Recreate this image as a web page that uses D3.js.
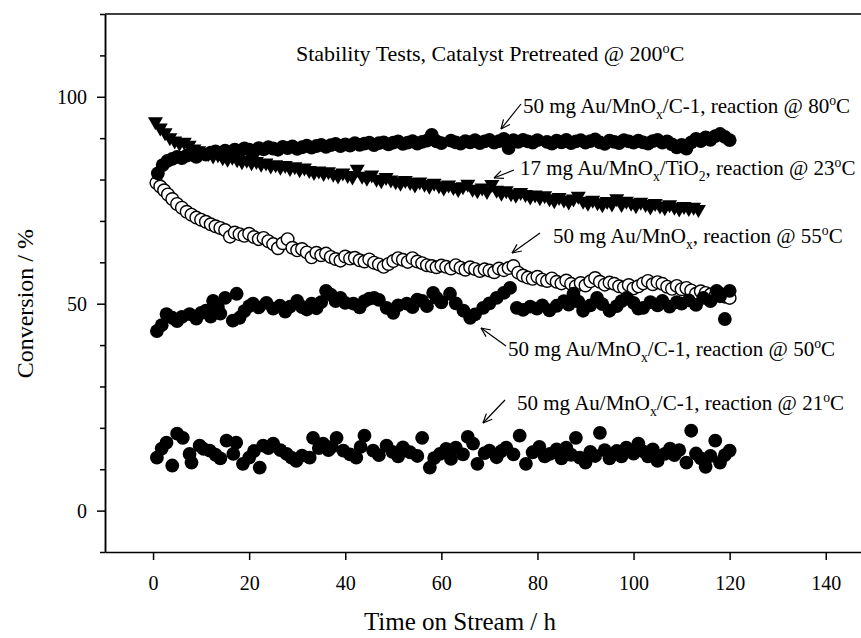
<!DOCTYPE html>
<html>
<head>
<meta charset="utf-8">
<script src="https://cdn.jsdelivr.net/npm/d3@7"></script>
<style>
body { margin: 0; background: #fff; }
svg { display: block; font-family: "Liberation Serif", "Times New Roman", serif; }
</style>
</head>
<body>
<script>
(function(){

//conversion (%) vs time on stream (h), one array per run
var run80 = [[1,81.5],[2,83.5],[3,84.5],[4,85],[5,85.5],[6,85.2],[7,85.8],[8,86],[9,85.5],[10,86.3],[11,86],[12,86.5],[13,86.8],[14,86.2],[15,87],[16,86.7],[17,87.2],[18,86.9],[19,87.5],[20,87.2],[21,86.8],[22,87.6],[23,87.3],[24,87.8],[25,87.5],[26,87.2],[27,87.9],[28,87.6],[29,88],[30,87.4],[31,87.8],[32,88.2],[33,87.7],[34,88.1],[35,88.4],[36,87.9],[37,88.3],[38,88.6],[39,88.1],[40,88.5],[41,88.2],[42,88.8],[43,88.4],[44,88.7],[45,88.9],[46,88.3],[47,88.8],[48,89],[49,88.5],[50,88.9],[51,89.2],[52,88.6],[53,88.9],[54,89.3],[55,88.7],[56,89.1],[57,89.4],[58,90.8],[59,89.2],[60,88.8],[62,89.4],[63,89],[64,88.7],[65,89.3],[66,89],[67,89.5],[68,88.8],[69,89.2],[70,89.6],[71,88.9],[72,89.3],[73,89.8],[74,87.6],[75,89.5],[76,89.1],[77,89.6],[78,89.2],[79,88.9],[80,89.5],[82,89.1],[83,88.7],[84,89.4],[85,89],[86,89.6],[87,88.8],[88,89.2],[89,89.5],[90,88.9],[91,89.3],[92,89.7],[93,89],[94,88.6],[95,89.4],[96,89.1],[97,88.8],[98,89.5],[99,89.2],[100,88.9],[101,89.4],[102,89],[103,88.7],[104,89.3],[105,89.6],[106,88.9],[107,89.2],[108,88.5],[109,87.8],[110,88.4],[111,87.5],[112,89],[113,89.8],[114,89.3],[115,90.2],[116,89.6],[117,90.5],[118,91],[119,90.3],[120,89.5]];

var run23 = [[0.5,93.5],[1.5,92],[2.5,90.8],[3.5,89.6],[4.5,88.8],[5.5,88.3],[6.5,88.5],[7.5,87.8],[8.5,86.9],[9.5,86.5],[10.5,86],[11.5,85.8],[12.5,85.2],[13.5,85.5],[14.5,84.8],[15.5,84.4],[16.5,84.9],[17.5,84.3],[18.5,83.8],[19.5,84.2],[20.5,83.6],[21.5,83.9],[22.5,83.2],[23.5,83.5],[24.5,82.8],[25.5,83.1],[26.5,82.5],[27.5,82.9],[28.5,82.2],[29.5,82.6],[30.5,81.9],[31.5,82.3],[32.5,81.7],[33.5,81.2],[34.5,81.6],[35.5,81],[36.5,81.4],[37.5,80.8],[38.5,80.4],[39.5,81.1],[40.5,80.5],[41.5,80.1],[42.5,82],[43.5,80.3],[44.5,79.8],[45.5,80.6],[46.5,79.6],[47.5,79.2],[48.5,80],[49.5,79.4],[50.5,79],[51.5,78.6],[52.5,79.3],[53.5,78.8],[54.5,78.2],[55.5,78.9],[56.5,78.4],[57.5,77.9],[58.5,78.6],[59.5,78],[60.5,77.5],[61.5,78.2],[62.5,77.6],[63.5,77.1],[64.5,77.8],[65.5,78.4],[66.5,77.2],[67.5,76.8],[68.5,77.5],[69.5,76.6],[70.5,78.3],[71.5,76.9],[72.5,76.2],[73.5,76.8],[74.5,76.1],[75.5,75.7],[76.5,76.4],[77.5,75.9],[78.5,75.3],[79.5,75.8],[80.5,75.1],[81.5,75.6],[82.5,74.9],[83.5,74.4],[84.5,75.2],[85.5,74.6],[86.5,74.1],[87.5,74.8],[88.5,75.5],[89.5,74.3],[90.5,73.8],[91.5,74.5],[92.5,73.9],[93.5,73.4],[94.5,74.2],[95.5,73.6],[96.5,74.9],[97.5,73.5],[98.5,74.3],[99.5,73.8],[100.5,73.2],[101.5,74],[102.5,73.5],[103.5,72.9],[104.5,73.7],[105.5,73.1],[106.5,72.7],[107.5,73.4],[108.5,72.8],[109.5,72.4],[110.5,73],[111.5,72.5],[112.5,72.8],[113.5,72.3]];

var run55 = [[0.7,79.2],[1.5,78.3],[2.3,77.4],[3.1,76.4],[4,75.3],[5,74.1],[6,73.2],[7,72.2],[8,71.5],[9,70.8],[10,70.3],[11,69.8],[12,69.2],[13,68.7],[14,68.3],[15,67.8],[16,66.2],[17,67.2],[18,66.8],[19,66.4],[20,66.9],[21,66.1],[22,65.6],[23,65.9],[24,65.1],[25,64.4],[26,63.4],[27,64.6],[28,65.6],[29,63.5],[30,62.9],[31,63.2],[32,62.4],[33,61.2],[34,62.3],[35,61.7],[36,62.1],[37,61.3],[38,60.8],[39,60.4],[40,61.4],[41,60.9],[42,61.1],[43,60.5],[44,60.2],[45,60.7],[46,59.9],[47,59.5],[48,58.9],[49,59.6],[50,60.3],[51,61],[52,60.6],[53,60.1],[54,61],[55,60.2],[56,59.8],[57,59.3],[58,59.1],[59,58.8],[60,59.2],[61,58.9],[62,58.5],[63,59.3],[64,58.7],[65,58.2],[66,58.8],[67,58.4],[68,57.9],[69,58.3],[70,58],[71,57.6],[72,58.5],[73,58.1],[74,58.6],[75,59.1],[76,57.5],[77,56.8],[78,56.3],[79,56],[80,56.5],[81,55.8],[82,55.5],[83,56.1],[84,55.3],[85,54.9],[86,55.6],[87,54.8],[88,54.2],[89,55],[90,54.4],[91,55.4],[92,56.2],[93,55.3],[94,54.6],[95,55.1],[96,54.8],[97,54.2],[98,53.9],[99,54.5],[100,53.7],[101,54.2],[102,54.9],[103,55.5],[104,54.7],[105,55.2],[106,54.8],[107,54.1],[108,53.6],[109,54.3],[110,53.5],[111,53.8],[112,53.2],[113,52.4],[114,53],[115,52.6],[116,52.2],[117,51.9],[118,52.4],[119,51.7],[120,51.4]];

var run50 = [[0.8,43.4],[1.8,44.8],[2.8,47.5],[4,46.6],[5,45.8],[6,46.8],[7.6,47.5],[9,46.4],[10,47.8],[11,48.3],[12,46.9],[12.5,50.7],[13.5,49.2],[14,47.6],[15,51.4],[16.6,45.9],[17.4,52.4],[18,46.6],[19,48.2],[20,49.4],[20.8,50],[22,49.1],[23.6,50.2],[25,48.8],[26.4,49.5],[27.5,48.1],[28.5,49.3],[30,50.7],[31,49.2],[32,48.6],[33,50],[34,48.9],[35,50.4],[36,53.1],[37,52.2],[38,50.6],[39,51.4],[40,50.2],[41.7,50],[43,49.1],[44,50.6],[45,51.2],[46,51.4],[47,50.9],[48.6,49],[50,47.8],[51,49.6],[52.8,50],[54,49.2],[55,51],[56,50.7],[57,49.4],[58.3,52.6],[59,51.4],[60,50.3],[61.8,52.4],[63,50.1],[64.6,48.3],[66,46.6],[67,47.4],[68.7,49],[70,50.1],[71.5,51.4],[73,52.6],[74.3,53.8],[75.7,49],[77,48.5],[78.5,49.3],[79.9,48.8],[81,49.6],[82.5,48.4],[84,49.5],[85.5,50.6],[86.5,49.8],[87.5,52.4],[88.5,50.5],[89.5,48.3],[91,49.6],[92.4,51.4],[93.5,49.9],[95,48.3],[96.5,49.4],[97.5,50.6],[98.6,51.4],[100,50.2],[101,48.8],[102,49],[103.5,50.4],[105,49.6],[106,50.7],[107.5,49.3],[109,50.4],[110,50],[111.5,50.8],[113,49.7],[114.5,51.4],[116,50.6],[117.3,53.1],[118,51.8],[119,46.3],[120,53.1]];

var run21 = [[0.8,12.8],[1.8,15],[2.8,16.4],[4,10.9],[5,18.6],[6.2,17.6],[7.6,13.7],[8,11.6],[9.7,15.7],[10.5,14.9],[11.8,14.5],[13,13.5],[14,12.6],[15.3,16.9],[16.7,13.7],[17.3,16.4],[18.7,11.3],[20,12.8],[21,14.4],[22.2,10.4],[22.9,15.7],[24,15.1],[25,16.2],[26.5,14.6],[27.8,13.7],[28.8,12.8],[29.8,12],[31,13.3],[32.6,12.8],[33.3,17.6],[34.5,15.1],[35.4,16.2],[36.5,14.6],[37.2,15.4],[38.2,17.6],[39.6,14.5],[41,13.6],[42.3,12.8],[43.2,15.4],[44,18.1],[45.8,14.5],[47,13.4],[48.6,15.7],[49.8,14.2],[51,13.1],[52,15.3],[53.5,14.1],[55,13.2],[56,17.6],[57.6,10.4],[58.5,12.7],[59.7,13.7],[61,14.9],[62,12.5],[63,15.2],[64.5,13.6],[65.5,17.8],[66.6,16.2],[67.5,11.3],[69,13.9],[70,14.5],[71.5,12.9],[72.5,14.4],[73.5,15.2],[75,13.6],[76.3,18.1],[77.6,11.3],[79,14.1],[80.4,15.4],[81.5,13.1],[82.6,13.7],[84,14.8],[85,12.6],[86,15.2],[87,13.5],[88,17.6],[88.8,12.8],[90,11.6],[91,14.2],[92,13.2],[93,18.8],[94,14.6],[95,12.6],[96.5,14.4],[97.5,13.1],[98.5,15.2],[100,13.8],[101,16.2],[102,14.3],[103,13.1],[104,14.8],[105,12],[106.5,13.7],[107.6,15],[108.5,13.4],[109.5,14.6],[111,11.6],[112,19.3],[113,13.8],[114,12.6],[115,10.6],[116,13.2],[117,16.9],[118,11.6],[119,13.4],[120,14.5]];

//tick values
var xTicks = [0, 20, 40, 60, 80, 100, 120, 140];
var yLabelTicks = [0, 50, 100];
var yMinorTicks = [-10, 10, 20, 30, 40, 60, 70, 80, 90, 110, 120];

//text pieces: n = normal, sub = subscript, sup = superscript
var titleText = [["Stability Tests, Catalyst Pretreated @ 200","n"],["o","sup"],["C","n"]];
var notes = [
    {txt: [["50 mg Au/MnO","n"],["x","sub"],["/C-1, reaction @ 80","n"],["o","sup"],["C","n"]], at: [523,113], arrow: [521,104,501,129]},
    {txt: [["17 mg Au/MnO","n"],["x","sub"],["/TiO","n"],["2","sub"],[", reaction @ 23","n"],["o","sup"],["C","n"]], at: [520,175], arrow: [514,170,494,178]},
    {txt: [["50 mg Au/MnO","n"],["x","sub"],[", reaction @ 55","n"],["o","sup"],["C","n"]], at: [553,243], arrow: [540,233,512,253]},
    {txt: [["50 mg Au/MnO","n"],["x","sub"],["/C-1, reaction @ 50","n"],["o","sup"],["C","n"]], at: [508,356], arrow: [506,346,481,328]},
    {txt: [["50 mg Au/MnO","n"],["x","sub"],["/C-1, reaction @ 21","n"],["o","sup"],["C","n"]], at: [517,410], arrow: [505,400,483,423]}
];

var width = 861,
    height = 638;

var svg = d3.select("body")
    .append("svg")
    .attr("width", width)
    .attr("height", height);

var x = d3.scaleLinear().domain([-10, 150]).range([105, 873.8]);
var y = d3.scaleLinear().domain([-10, 120]).range([552, 14]);

//axes
svg.append("g")
    .attr("transform", "translate(" + x(-10) + ",0)")
    .call(d3.axisLeft(y).tickValues(yMinorTicks).tickSize(5).tickFormat("").tickSizeOuter(0));
svg.append("g")
    .attr("transform", "translate(" + x(-10) + ",0)")
    .call(d3.axisLeft(y).tickValues(yLabelTicks).tickSize(8).tickPadding(10).tickSizeOuter(0));
svg.append("g")
    .attr("transform", "translate(0," + y(-10) + ")")
    .call(d3.axisBottom(x).tickValues(xTicks).tickSize(8).tickPadding(16).tickSizeOuter(0));

svg.append("line")
    .attr("x1", x(-10)).attr("x2", x(150))
    .attr("y1", y(120)).attr("y2", y(120))
    .attr("stroke", "#000").attr("stroke-width", 1.5);

svg.selectAll(".domain, .tick line")
    .attr("stroke", "#000")
    .attr("stroke-width", 1.5);
svg.selectAll(".tick text")
    .attr("fill", "#000")
    .style("font-size", "20px")
    .style("font-family", "Liberation Serif, Times New Roman, serif");

//axis titles
svg.append("text")
    .attr("transform", "translate(33," + y(50) + ") rotate(-90)")
    .attr("text-anchor", "middle")
    .style("font-size", "24px")
    .text("Conversion / %");
svg.append("text")
    .attr("x", 460).attr("y", 630)
    .attr("text-anchor", "middle")
    .style("font-size", "25px")
    .text("Time on Stream / h");

//markers
function dots(data, filled){
    svg.append("g").selectAll("circle")
        .data(data)
        .enter()
        .append("circle")
        .attr("cx", function(d){ return x(d[0]); })
        .attr("cy", function(d){ return y(d[1]); })
        .attr("r", filled ? 6.9 : 6.3)
        .attr("fill", filled ? "#000" : "#fff")
        .attr("stroke", "#000")
        .attr("stroke-width", filled ? 0 : 1.4);
}

dots(run21, true);
dots(run55, false);
dots(run50, true);
dots(run80, true);

svg.append("g").selectAll("path")
    .data(run23)
    .enter()
    .append("path")
    .attr("d", "M-7.5,-6.5L7.5,-6.5L0,6.5Z")
    .attr("transform", function(d){ return "translate(" + x(d[0]) + "," + y(d[1]) + ")"; })
    .attr("fill", "#000");

//text with sub/superscripts
function richText(parts, px, py, size){
    var t = svg.append("text")
        .attr("x", px).attr("y", py)
        .style("font-size", size + "px");
    var shift = 0;
    parts.forEach(function(p){
        var target = p[1] == "sub" ? size * 0.3 : (p[1] == "sup" ? -size * 0.38 : 0);
        t.append("tspan")
            .attr("dy", target - shift)
            .style("font-size", p[1] == "n" ? size + "px" : (size * 0.65) + "px")
            .text(p[0]);
        shift = target;
    });
    return t;
}

richText(titleText, 296, 61, 22);

notes.forEach(function(n){
    richText(n.txt, n.at[0], n.at[1], 21);

    var a = n.arrow,
        ang = Math.atan2(a[3] - a[1], a[2] - a[0]),
        len = 10, spread = 0.42;
    var g = svg.append("g").attr("stroke", "#000").attr("stroke-width", 1.2).attr("fill", "none");
    g.append("line").attr("x1", a[0]).attr("y1", a[1]).attr("x2", a[2]).attr("y2", a[3]);
    [-spread, spread].forEach(function(s){
        g.append("line")
            .attr("x1", a[2]).attr("y1", a[3])
            .attr("x2", a[2] - len * Math.cos(ang + s))
            .attr("y2", a[3] - len * Math.sin(ang + s));
    });
});

})();
</script>
</body>
</html>
